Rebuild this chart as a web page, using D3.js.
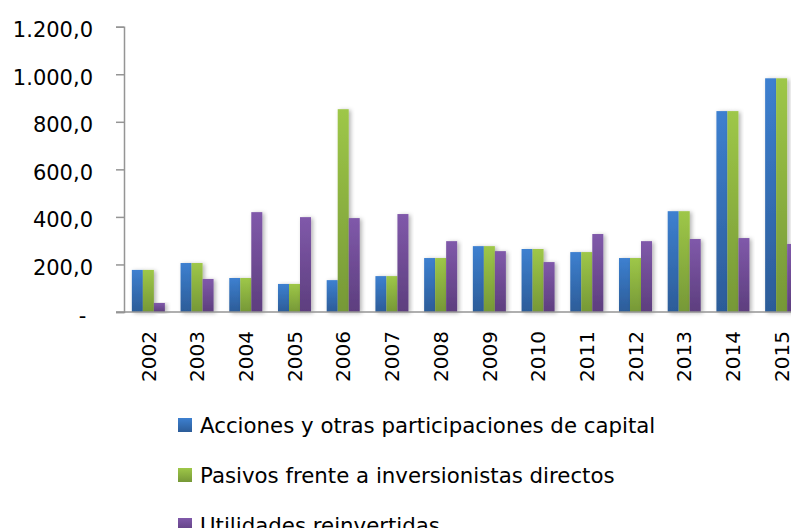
<!DOCTYPE html>
<html>
<head>
<meta charset="utf-8">
<script src="https://cdn.jsdelivr.net/npm/d3@7"></script>
<style>
  body { margin: 0; background: #fff; }
  svg { display: block; font-family: "DejaVu Sans", sans-serif; }
</style>
</head>
<body>
<div id="chart"></div>
<script>
var WIDTH = 791
var HEIGHT = 528

// values
var years = ['2002', '2003', '2004', '2005', '2006', '2007', '2008', '2009', '2010', '2011', '2012', '2013', '2014', '2015'];
var acciones = [177, 206, 143, 118, 134, 151, 227, 277, 265, 252, 227, 424, 845, 983];
var pasivos = [177, 206, 143, 118, 853, 151, 227, 277, 265, 252, 227, 424, 845, 983];
var utilidades = [38, 139, 420, 399, 395, 412, 298, 256, 210, 328, 298, 307, 311, 286];
var seriesNames = ['Acciones y otras participaciones de capital', 'Pasivos frente a inversionistas directos', 'Utilidades reinvertidas'];
var yTicks = [0, 200, 400, 600, 800, 1000, 1200];

var colors = [
    { id: 'gBlue', top: '#3d80d0', bottom: '#2c5c98' },
    { id: 'gGreen', top: '#9ec748', bottom: '#769837' },
    { id: 'gPurple', top: '#8059aa', bottom: '#5d3e7e' }
];

var seriesData = [acciones, pasivos, utilidades];

var svg = d3.select('#chart').append('svg')
    .attr('width', WIDTH)
    .attr('height', HEIGHT)

var defs = svg.append('defs');
colors.forEach(c => {
    var grad = defs.append('linearGradient')
        .attr('id', c.id)
        .attr('x1', 0).attr('y1', 0).attr('x2', 0).attr('y2', 1);
    grad.append('stop').attr('offset', '0%').attr('stop-color', c.top);
    grad.append('stop').attr('offset', '100%').attr('stop-color', c.bottom);
});

var shadow = defs.append('filter')
    .attr('id', 'shadow')
    .attr('x', '-50%').attr('y', '-10%').attr('width', '200%').attr('height', '130%');
shadow.append('feDropShadow')
    .attr('dx', 2).attr('dy', 1)
    .attr('stdDeviation', 2)
    .attr('flood-color', '#000')
    .attr('flood-opacity', 0.3);

// scales
var x0 = d3.scaleBand()
    .domain(years)
    .range([124, 806])
    .paddingInner(0.322)
    .paddingOuter(0.161);

var x1 = d3.scaleBand()
    .domain(d3.range(seriesData.length))
    .range([0, x0.bandwidth()])
    .padding(0);

var y = d3.scaleLinear()
    .domain([0, 1200])
    .range([312, 26.7]);

// bars
var groups = svg.append('g')
    .selectAll('g')
    .data(years)
    .enter()
    .append('g')
    .attr('transform', d => 'translate(' + x0(d) + ',0)');

groups.selectAll('rect')
    .data((d, i) => seriesData.map((s, k) => ({ k: k, v: s[i] })))
    .enter()
    .append('rect')
    .attr('x', d => x1(d.k))
    .attr('y', d => y(d.v))
    .attr('width', x1.bandwidth())
    .attr('height', d => y(0) - y(d.v))
    .attr('fill', d => 'url(#' + colors[d.k].id + ')')
    .attr('filter', 'url(#shadow)');

// y axis
var yAxis = d3.axisLeft(y)
    .tickValues(yTicks)
    .tickSize(8)
    .tickPadding(23)
    .tickFormat(d => d === 0 ? '-\u00a0' : d3.format(',.1f')(d).replace(/,/g, ' ').replace('.', ',').replace(/ /g, '.'));

var gy = svg.append('g')
    .attr('transform', 'translate(124,0)')
    .call(yAxis);
gy.select('.domain').attr('stroke', '#959595').attr('stroke-width', 1.5);
gy.selectAll('.tick line').attr('stroke', '#959595').attr('stroke-width', 1.5);
gy.selectAll('.tick text')
    .attr('fill', '#000')
    .attr('dy', '0.48em')
    .style('font-size', '21px')
    .style('font-family', '"DejaVu Sans", sans-serif');

// x axis
var xAxis = d3.axisBottom(x0).tickSize(0).tickPadding(0);
var gx = svg.append('g')
    .attr('transform', 'translate(0,' + y(0) + ')')
    .call(xAxis);
gx.select('.domain').remove();
gx.append('line')
    .attr('x1', 116).attr('x2', WIDTH)
    .attr('y1', 0).attr('y2', 0)
    .attr('stroke', '#959595')
    .attr('stroke-width', 1.5);
gx.selectAll('.tick text')
    .attr('fill', '#000')
    .attr('transform', 'rotate(-90)')
    .attr('text-anchor', 'end')
    .attr('x', -19)
    .attr('y', 0)
    .attr('dy', '0.36em')
    .style('font-size', '20px')
    .style('font-family', '"DejaVu Sans", sans-serif');

// legend
var legend = svg.append('g')
    .selectAll('g')
    .data(seriesNames)
    .enter()
    .append('g')
    .attr('transform', (d, i) => 'translate(178,' + (418 + i * 50) + ')');

legend.append('rect')
    .attr('width', 14)
    .attr('height', 14)
    .attr('fill', (d, i) => 'url(#' + colors[i].id + ')');

legend.append('text')
    .attr('x', 22)
    .attr('y', 14.5)
    .attr('fill', '#000')
    .style('font-size', '21.3px')
    .text(d => d);
</script>
</body>
</html>
